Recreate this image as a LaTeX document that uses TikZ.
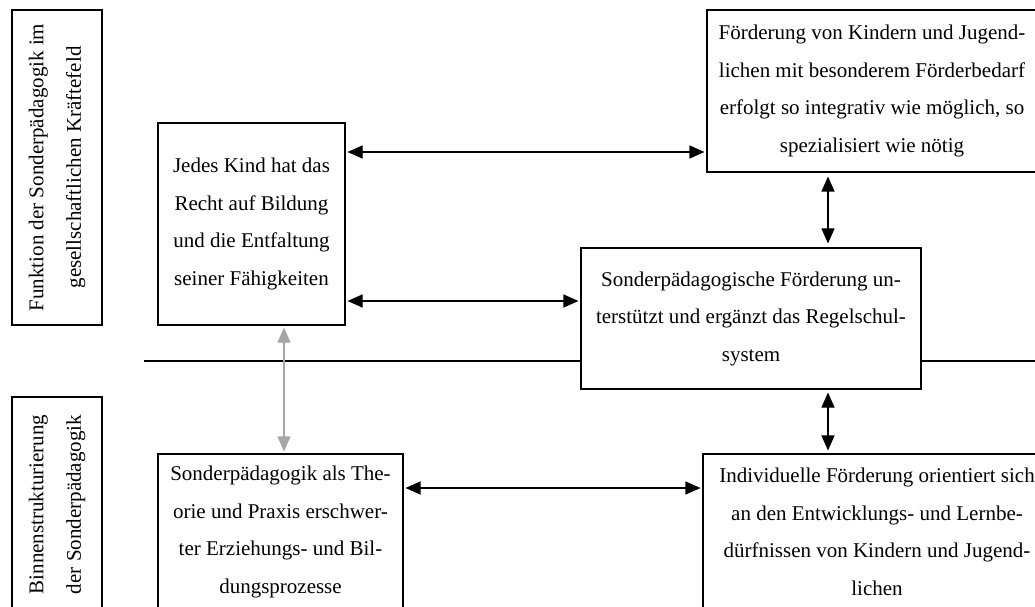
\documentclass[tikz,border=0pt]{standalone}
\usepackage{fontspec}
\setmainfont{Liberation Serif}
\usetikzlibrary{arrows.meta}
\begin{document}
\begin{tikzpicture}[
  x=1pt, y=1pt,
  every node/.style={font=\fontsize{21}{37.5}\selectfont, align=center, inner sep=2pt},
  kasten/.style={draw, line width=1.1pt, minimum width=#1},
  seite/.style={draw, line width=1.1pt, rotate=90, minimum height=90},
  pfeil/.style={{Triangle[length=15pt,width=13pt]}-{Triangle[length=15pt,width=13pt]}, line width=1.1pt, shorten <=2pt, shorten >=2pt},
  grau/.style={pfeil, draw=black!35, {Triangle[length=15pt,width=13pt,fill=black!35]}-{Triangle[length=15pt,width=13pt,fill=black!35]}}
]
\useasboundingbox (0,0) rectangle (1035,606);
\clip (0,0) rectangle (1035,606);
% linke Spalte
\node[seite, minimum width=315] (funktion) at (57,438.5)
  {Funktion der Sonderpädagogik im\\gesellschaftlichen Kräftefeld};
\node[seite, minimum width=215] (binnen) at (57,101.5)
  {Binnenstrukturierung\\der Sonderpädagogik};
% Kaesten
\node[kasten=187, minimum height=202] (kind) at (251.5,382)
  {Jedes Kind hat das\\Recht auf Bildung\\und die Entfaltung\\seiner Fähigkeiten};
\node[kasten=330, minimum height=162] (integrativ) at (872,515)
  {Förderung von Kindern und Jugend-\\lichen mit besonderem Förderbedarf\\erfolgt so integrativ wie möglich, so\\spezialisiert wie nötig};
\node[kasten=340, minimum height=141] (regel) at (751,287.5)
  {Sonderpädagogische Förderung un-\\terstützt und ergänzt das Regelschul-\\system};
\node[kasten=245, minimum height=156] (theorie) at (280.5,74)
  {Sonderpädagogik als The-\\orie und Praxis erschwer-\\ter Erziehungs- und Bil-\\dungsprozesse};
\node[kasten=348, minimum height=156] (individuell) at (877,74)
  {Individuelle Förderung orientiert sich\\an den Entwicklungs- und Lernbe-\\dürfnissen von Kindern und Jugend-\\lichen};
% Trennlinie
\coordinate (trennL) at (144,245);
\coordinate (trennR) at (1040,245);
\draw[line width=1.1pt] (trennL) -- (regel.west |- trennL);
\draw[line width=1.1pt] (regel.east |- trennL) -- (trennR);
% Pfeile
\draw[pfeil] (kind.east |- 0,454) -- (integrativ.west |- 0,454);
\draw[pfeil] (kind.east |- 0,305) -- (regel.west |- 0,305);
\draw[pfeil, shorten <=4pt, shorten >=4pt] (integrativ.south -| 828,0) -- (regel.north -| 828,0);
\draw[pfeil, shorten <=3pt, shorten >=3pt] (regel.south -| 828,0) -- (individuell.north -| 828,0);
\draw[pfeil] (theorie.east |- 0,118) -- (individuell.west |- 0,118);
\draw[grau] (kind.south -| 284,0) -- (theorie.north -| 284,0);
\end{tikzpicture}
\end{document}
